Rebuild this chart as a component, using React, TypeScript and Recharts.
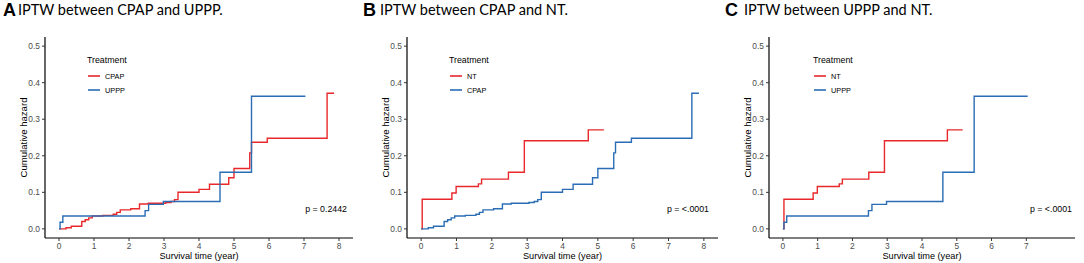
import React from "react"
import { Line, LineChart, XAxis, YAxis } from "recharts"

// cumulative hazard step points (time in years)
const cpapTime = [0, 0.2, 0.35, 0.65, 0.75, 0.85, 0.95, 1.25, 1.55, 1.65, 1.75, 2.05, 2.3, 2.55, 3.05, 3.2, 3.3, 3.4, 4.0, 4.3, 4.85, 5.0, 5.45, 5.5, 5.95, 7.66, 7.86]
const cpapHazard = [0, 0.003, 0.007, 0.02, 0.025, 0.03, 0.035, 0.037, 0.04, 0.045, 0.052, 0.055, 0.068, 0.07, 0.072, 0.075, 0.08, 0.1, 0.108, 0.122, 0.14, 0.165, 0.208, 0.237, 0.248, 0.371, 0.371]

const upppTime = [0, 0.03, 0.11, 2.46, 2.56, 2.98, 4.6, 5.5, 7.04]
const upppHazard = [0, 0.018, 0.035, 0.05, 0.067, 0.075, 0.155, 0.363, 0.363]

const ntTime = [0, 0.03, 0.87, 0.99, 1.62, 1.71, 2.47, 2.92, 4.73, 5.17]
const ntHazard = [0, 0.081, 0.098, 0.116, 0.123, 0.136, 0.155, 0.241, 0.271, 0.271]

const yTicks = [0, 0.1, 0.2, 0.3, 0.4, 0.5]
const xTicks8 = [0, 1, 2, 3, 4, 5, 6, 7, 8]
const xTicks7 = [0, 1, 2, 3, 4, 5, 6, 7]

const RED = "#e8282b"
const BLUE = "#2a6db5"
const SANS = "'Liberation Sans', Arial, sans-serif"

const toPoints = (time: number[], hazard: number[]) => time.map((t, i) => ({ t, h: hazard[i] }))

type Series = { name: string; color: string; points: { t: number; h: number }[] }

function Panel({ letter, title, series, xTicks, pText, width, left, right, titleX, legendX, pRight }: {
  letter: string; title: string; series: Series[]; xTicks: number[]; pText: string
  width: number; left: number; right: number; titleX: number; legendX: number; pRight: number
}) {
  return (
    <div style={{ position: "relative", width, height: 263 }}>
      <div style={{ position: "absolute", left: 3, top: 0, fontFamily: SANS, fontWeight: "bold", fontSize: 18, lineHeight: "20px" }}>{letter}</div>
      <div style={{ position: "absolute", left: titleX, top: 0, fontFamily: "Lato, sans-serif", fontSize: 14.5, lineHeight: "19px" }}>{title}</div>
      <LineChart width={width} height={263} margin={{ top: 37, right, bottom: 0, left: 10 }}>
        <XAxis dataKey="t" type="number" domain={[-0.4, 8.4]} ticks={xTicks} allowDataOverflow
          height={25} tickSize={3} tickMargin={2} stroke="#000" axisLine={{ stroke: "#000", strokeWidth: 1.2 }}
          tickLine={{ stroke: "#333" }} tick={{ fill: "#4d4d4d", fontSize: 8.4, fontFamily: SANS }}
          label={{ value: "Survival time (year)", position: "insideBottom", offset: 4, fill: "#000", fontSize: 9.2, fontFamily: SANS }} />
        <YAxis type="number" domain={[-0.025, 0.525]} ticks={yTicks} allowDataOverflow width={left - 10}
          tickFormatter={(v: number) => v.toFixed(1)} tickSize={3} tickMargin={2}
          axisLine={{ stroke: "#000", strokeWidth: 1.2 }} tickLine={{ stroke: "#333" }}
          tick={{ fill: "#4d4d4d", fontSize: 8.4, fontFamily: SANS }}
          label={{ value: "Cumulative hazard", angle: -90, position: "insideLeft", offset: left - 31, fill: "#000", fontSize: 9.6, fontFamily: SANS, style: { textAnchor: "middle" } }} />
        {series.map((s) => (
          <Line key={s.name} data={s.points} dataKey="h" name={s.name} type="stepAfter" stroke={s.color}
            strokeWidth={1.4} dot={false} activeDot={false} isAnimationActive={false} />
        ))}
      </LineChart>
      <div style={{ position: "absolute", left: legendX, top: 55, fontFamily: SANS, fontSize: 8.8, color: "#000" }}>Treatment</div>
      {series.map((s, i) => (
        <div key={s.name} style={{ position: "absolute", left: legendX + 1, top: 71 + i * 14, height: 10, display: "flex", alignItems: "center", fontFamily: SANS, fontSize: 7.3 }}>
          <svg width={17} height={10} style={{ display: "block" }}>
            <line x1={0} x2={12} y1={5} y2={5} stroke={s.color} strokeWidth={1.6} />
          </svg>
          <span>{s.name}</span>
        </div>
      ))}
      <div style={{ position: "absolute", right: width - pRight, top: 204, fontFamily: SANS, fontSize: 8.8, color: "#000" }}>{pText}</div>
    </div>
  )
}

export default function App() {
  const cpap = toPoints(cpapTime, cpapHazard)
  const uppp = toPoints(upppTime, upppHazard)
  const nt = toPoints(ntTime, ntHazard)
  return (
    <div style={{ position: "absolute", left: 0, top: 0, display: "flex", width: 1084, height: 263, background: "#fff" }}>
      <Panel letter="A" title="IPTW between CPAP and UPPP." xTicks={xTicks8} pText="p = 0.2442"
        width={360} left={45} right={7} titleX={18} legendX={87} pRight={347}
        series={[{ name: "CPAP", color: RED, points: cpap }, { name: "UPPP", color: BLUE, points: uppp }]} />
      <Panel letter="B" title="IPTW between CPAP and NT." xTicks={xTicks8} pText="p = <.0001"
        width={362} left={47} right={4} titleX={20} legendX={89} pRight={349}
        series={[{ name: "NT", color: RED, points: nt }, { name: "CPAP", color: BLUE, points: cpap }]} />
      <Panel letter="C" title="IPTW between UPPP and NT." xTicks={xTicks7} pText="p = <.0001"
        width={362} left={47} right={9} titleX={22} legendX={91} pRight={350}
        series={[{ name: "NT", color: RED, points: nt }, { name: "UPPP", color: BLUE, points: uppp }]} />
    </div>
  )
}
